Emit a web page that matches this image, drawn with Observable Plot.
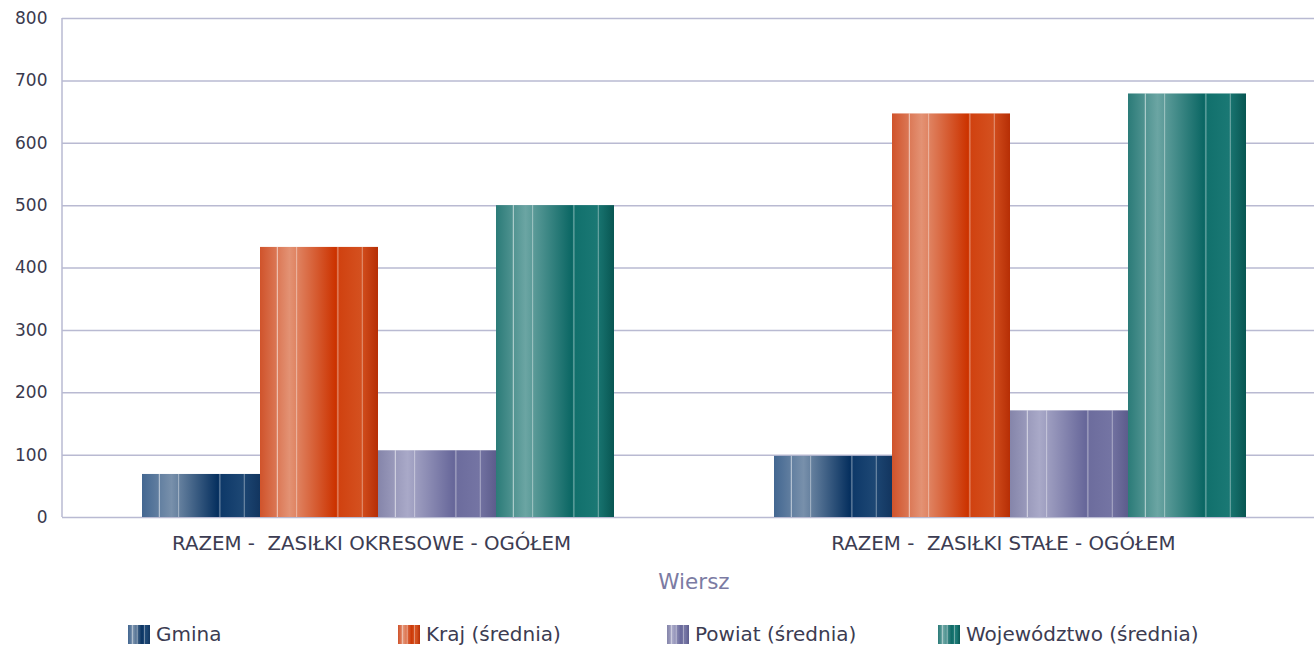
<!DOCTYPE html>
<html><head><meta charset="utf-8">
<script src="https://cdn.jsdelivr.net/npm/d3@7"></script>
<script src="https://cdn.jsdelivr.net/npm/@observablehq/plot@0.6"></script>
<style>
html,body{margin:0;padding:0;overflow:hidden;background:#fff;width:1314px;height:646px}
#wrap{position:relative;width:1314px;height:646px;overflow:hidden}
#chart{position:absolute;left:0;top:0;width:1330px}
#chart svg{max-width:none !important}
#xlabel{position:absolute;left:62px;width:1264px;top:569px;text-align:center;font-family:"DejaVu Sans",sans-serif;font-size:21.5px;color:#7b7ba3}
#legend{position:absolute;left:0;top:622px;width:1314px;height:24px}
.item{position:absolute;top:0;display:flex;align-items:center;font-family:"DejaVu Sans",sans-serif;font-size:20px;color:#3c3c52;white-space:nowrap}
.item svg{margin-right:6px}
</style></head><body>
<svg width="0" height="0" style="position:absolute">
<defs id="defs"></defs>
</svg>
<div id="wrap"><div id="chart"></div><div id="xlabel">Wiersz</div><div id="legend"></div></div>
<script>
// ---- data ----
const groups = ["RAZEM -  ZASIŁKI OKRESOWE - OGÓŁEM", "RAZEM -  ZASIŁKI STAŁE - OGÓŁEM"];
const series = ["Gmina", "Kraj (średnia)", "Powiat (średnia)", "Województwo (średnia)"];
const gmina = [69, 98];
const kraj = [433, 647];
const powiat = [107, 171];
const wojewodztwo = [500, 679];
const yTicks = [0, 100, 200, 300, 400, 500, 600, 700, 800];

const valuesBySeries = [gmina, kraj, powiat, wojewodztwo];
const data = [];
groups.forEach((g, i) => series.forEach((s, j) => data.push({group: g, series: s, value: valuesBySeries[j][i]})));

// ---- gradient styles ----
const gradStops = [
  ["#436791", "#7890ab", "#06305f", "#0d3868", "#1d4774", "#12355f"],
  ["#d0532b", "#e39274", "#cc3300", "#d0410f", "#d4501f", "#b62e05"],
  ["#8585aa", "#a9a9c8", "#67679a", "#6c6c9d", "#7474a3", "#5c5c8c"],
  ["#2b7b78", "#6ba5a3", "#0b6764", "#11706c", "#1a7874", "#085652"]
];
const stopPos = [0, 0.25, 0.64, 0.66, 0.85, 1];
const defs = d3.select("#defs");
gradStops.forEach((cols, j) => {
  const lg = defs.append("linearGradient").attr("id", "g" + j).attr("x1", 0).attr("x2", 1).attr("y1", 0).attr("y2", 0);
  cols.forEach((c, k) => lg.append("stop").attr("offset", stopPos[k]).attr("stop-color", c));
});
const stripes = [[0.147, 0.6], [0.31, 0.4], [0.66, 0.45], [0.867, 0.4]];
const sg = defs.append("linearGradient").attr("id", "stripes").attr("x1", 0).attr("x2", 1).attr("y1", 0).attr("y2", 0);
stripes.forEach(([p, o]) => {
  sg.append("stop").attr("offset", p - 0.009).attr("stop-color", "#fff").attr("stop-opacity", 0);
  sg.append("stop").attr("offset", p).attr("stop-color", "#fff").attr("stop-opacity", o);
  sg.append("stop").attr("offset", p + 0.009).attr("stop-color", "#fff").attr("stop-opacity", 0);
});
const ls = defs.append("linearGradient").attr("id", "lstripes").attr("x1", 0).attr("x2", 1).attr("y1", 0).attr("y2", 0);
[[0.2, 0.5], [0.42, 0.4], [0.75, 0.4]].forEach(([p, o]) => {
  ls.append("stop").attr("offset", p - 0.05).attr("stop-color", "#fff").attr("stop-opacity", 0);
  ls.append("stop").attr("offset", p).attr("stop-color", "#fff").attr("stop-opacity", o);
  ls.append("stop").attr("offset", p + 0.05).attr("stop-color", "#fff").attr("stop-opacity", 0);
});

const gridColor = "#b9bad2";
const plot = Plot.plot({
  width: 1326, height: 600,
  marginLeft: 62, marginRight: 0, marginTop: 18, marginBottom: 83,
  style: {fontFamily: "'DejaVu Sans', sans-serif", fontSize: "16px", color: "#3c3c52", background: "transparent", overflow: "visible", maxWidth: "none"},
  fx: {domain: groups, padding: 0, label: null},
  x: {domain: series, paddingInner: 0, paddingOuter: 0.667, axis: null},
  y: {domain: [0, 800], label: null},
  marks: [
    Plot.gridY(yTicks, {stroke: gridColor, strokeOpacity: 1, strokeWidth: 1.5}),
    ...series.map((s, j) => Plot.barY(data.filter(d => d.series === s), {fx: "group", x: "series", y: "value", fill: `url(#g${j})`})),
    Plot.barY(data, {fx: "group", x: "series", y: "value", fill: "url(#stripes)"}),
    Plot.axisY(yTicks, {tickSize: 0, tickPadding: 15, fontSize: 17, label: null, fill: "#3a3a4e"}),
    Plot.axisFx({anchor: "bottom", tickSize: 0, tickPadding: 18, dx: -7, label: null, fontSize: 19.8, fill: "#3c3c52"})
  ]
});
d3.select(plot).selectAll("text").style("white-space", "pre");
// vertical axis line on the left of the frame, from the y scale
const ys = plot.scale("y");
d3.select(plot).append("line")
  .attr("x1", 62).attr("x2", 62)
  .attr("y1", ys.apply(0)).attr("y2", ys.apply(800))
  .attr("stroke", gridColor).attr("stroke-width", 1.5);
document.getElementById("chart").appendChild(plot);

// legend
const legendX = [128, 398, 667, 938];
const legend = d3.select("#legend");
series.forEach((s, j) => {
  const it = legend.append("div").attr("class", "item").style("left", legendX[j] + "px");
  const sv = it.append("svg").attr("width", 22).attr("height", 19);
  sv.append("rect").attr("width", 22).attr("height", 19).attr("fill", `url(#g${j})`);
  sv.append("rect").attr("width", 22).attr("height", 19).attr("fill", "url(#lstripes)");
  it.append("span").text(s);
});
</script>
</body></html>
